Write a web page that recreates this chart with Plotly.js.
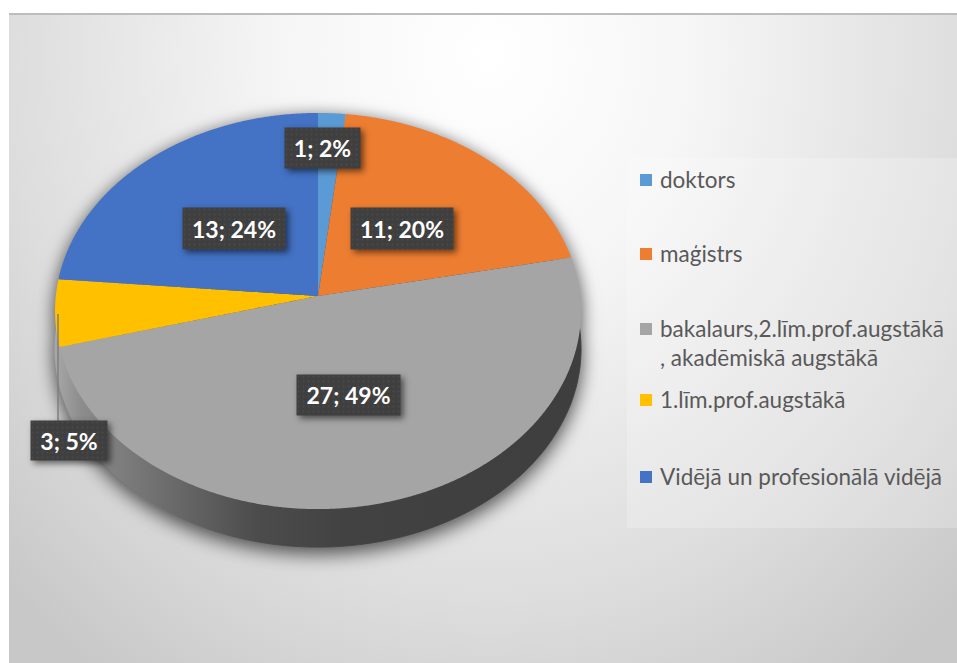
<!DOCTYPE html>
<html><head><meta charset="utf-8">
<script src="https://cdn.plot.ly/plotly-3.0.1.min.js"></script>
<style>
html,body{margin:0;padding:0;background:#fff;width:957px;height:663px;overflow:hidden}
#bg{position:absolute;left:9px;top:13px;width:948px;height:650px;box-sizing:border-box;border-top:2px solid #bdbdbd;
background:radial-gradient(ellipse 670px 760px at 481px 40px,#ffffff 0%,#f6f6f6 30%,#dddddd 72%,#c8c8c8 100%)}
#chart{position:absolute;left:0;top:0;width:957px;height:663px}
.annotation rect{filter:drop-shadow(3px 3px 3px rgba(0,0,0,.55))}
.pielayer{filter:drop-shadow(0 7px 9px rgba(0,0,0,.5)) drop-shadow(0 0 7px rgba(0,0,0,.25))}
</style></head><body>
<div id="bg"></div><div id="chart"></div>
<script>
const categories=['doktors','maģistrs','bakalaurs,2.līm.prof.augstākā<br>, akadēmiskā augstākā','1.līm.prof.augstākā','Vidējā un profesionālā vidējā'];
const counts=[1,11,27,3,13];
const colors=['#5b9bd5','#ed7d31','#a5a5a5','#ffc000','#4472c4'];
const W=957,H=663;
const total=counts.reduce((a,b)=>a+b,0);
const px=x=>x/W, py=y=>1-y/H;
// label boxes: left, top, width, height in page pixels
const boxes=[[285,128,75,40],[351,208,102,41],[297,375,103,40],[31,421,76,39],[183,208,102,41]];
const annotations=counts.map((v,i)=>({
  xref:'paper',yref:'paper',xanchor:'center',yanchor:'middle',
  x:px(boxes[i][0]+boxes[i][2]/2),y:py(boxes[i][1]+boxes[i][3]/2),
  width:boxes[i][2],height:boxes[i][3],borderpad:0,
  showarrow:false,bgcolor:'#404040',
  text:'<b>'+v+'; '+Math.round(v/total*100)+'%</b>',
  font:{family:'Lato, sans-serif',size:23,color:'#ffffff'}
}));
const cx=318,cy=296,R=280;
const dom={x:[px(cx-R),px(cx+R)],y:[py(cy+R),py(cy-R)]};
const wall={type:'pie',values:counts,labels:categories.map((c,i)=>'wall'+i),sort:false,direction:'clockwise',rotation:0,
  textinfo:'none',hoverinfo:'skip',showlegend:false,domain:{x:[Math.max(0,dom.x[0]),dom.x[1]],y:dom.y},
  marker:{colors:counts.map(()=>'#404040'),line:{width:0}}};
const top_={type:'pie',values:counts,labels:categories,sort:false,direction:'clockwise',rotation:0,
  textinfo:'none',domain:wall.domain,marker:{colors:colors,line:{width:0}}};
const layout={width:W,height:H,margin:{l:0,r:0,t:0,b:0},paper_bgcolor:'rgba(0,0,0,0)',plot_bgcolor:'rgba(0,0,0,0)',
  showlegend:true,
  legend:{x:px(620),y:py(160),xanchor:'left',yanchor:'top',bgcolor:'rgba(0,0,0,0)',font:{family:'Lato, sans-serif',size:22.5,color:'#595959'},itemclick:false,itemdoubleclick:false},
  shapes:[
    {type:'rect',xref:'paper',yref:'paper',x0:px(627),x1:px(957),y0:py(158),y1:py(528),fillcolor:'rgba(255,255,255,0.22)',line:{width:0},layer:'below'},
    {type:'line',xref:'paper',yref:'paper',x0:px(58),x1:px(58),y0:py(314),y1:py(421),line:{color:'#7f7f7f',width:1.5}}
  ],
  annotations:annotations};
const gd=document.getElementById('chart');
// perspective projection of the flat pie disc
const b=-0.0758,a=196.9,k=262.2,depth=38;
function tilt(path,r,dy){
  const L=path.getTotalLength(),p0=path.getPointAtLength(0);
  const pts=[];
  for(let s=0;s<=L;s+=1.5){
    const p=path.getPointAtLength(s),u=(p.x-p0.x)/r,v=(p.y-p0.y)/r,d=1+b*v;
    pts.push((p0.x+k*u/d).toFixed(2)+','+(p0.y+a*v/d+dy).toFixed(2));
  }
  path.setAttribute('d','M'+pts.join('L')+'Z');
}
Plotly.newPlot(gd,[wall,top_],layout,{displayModeBar:false}).then(()=>{
  const r=gd.calcdata[0][0].r;
  const svg=gd.querySelector('svg.main-svg');
  const ns='http://www.w3.org/2000/svg';
  const defs=gd.querySelector('defs')||svg.insertBefore(document.createElementNS(ns,'defs'),svg.firstChild);
  const g=document.createElementNS(ns,'linearGradient');
  g.setAttribute('id','wallgrad');g.setAttribute('gradientUnits','userSpaceOnUse');
  g.setAttribute('x1','55');g.setAttribute('x2','585');g.setAttribute('y1','0');g.setAttribute('y2','0');
  [[0,'#a8a8a8'],[.05,'#8c8c8c'],[.2,'#6e6e6e'],[.38,'#4c4c4c'],[.55,'#424242'],[1,'#3e3e3e']].forEach(s=>{
    const st=document.createElementNS(ns,'stop');st.setAttribute('offset',s[0]);st.setAttribute('stop-color',s[1]);g.appendChild(st);});
  defs.appendChild(g);
  // faint dot texture of the label boxes
  const pat=document.createElementNS(ns,'pattern');
  pat.setAttribute('id','dots');pat.setAttribute('width','5');pat.setAttribute('height','5');pat.setAttribute('patternUnits','userSpaceOnUse');
  const pr=document.createElementNS(ns,'rect');pr.setAttribute('width','5');pr.setAttribute('height','5');pr.setAttribute('fill','#3f3f3f');pat.appendChild(pr);
  const pc=document.createElementNS(ns,'circle');pc.setAttribute('cx','2.5');pc.setAttribute('cy','2.5');pc.setAttribute('r','0.9');pc.setAttribute('fill','#4a4a4a');pat.appendChild(pc);
  defs.appendChild(pat);
  gd.querySelectorAll('.annotation rect.bg').forEach(x=>{x.style.fill='url(#dots)';x.style.fillOpacity='1';});
  const traces=gd.querySelectorAll('.pielayer .trace');
  traces[0].querySelectorAll('path.surface').forEach(p=>{
    tilt(p,r,depth);
    p.style.fill='url(#wallgrad)';p.style.stroke='url(#wallgrad)';p.style.strokeWidth='1px';
  });
  traces[1].querySelectorAll('path.surface').forEach(p=>tilt(p,r,0));
  // legend rows at the reference spacing
  const rows=[179,253,328,399,476];
  const lg=gd.querySelector('.legend');
  const m=/translate\(([-\d.]+),\s*([-\d.]+)\)/.exec(lg.getAttribute('transform'));
  const ox=+m[1],oy=+m[2];
  lg.querySelectorAll('[clip-path]').forEach(e=>e.removeAttribute('clip-path'));
  lg.querySelectorAll('.scrollbox').forEach(e=>{e.style.clipPath='none';});
  const half=22.5*1.3/2;
  lg.querySelectorAll('.traces').forEach((t,i)=>{
    const extra=categories[i].includes('<br>')?half:0;
    t.setAttribute('transform','translate('+(620-ox)+','+(rows[i]+extra-oy)+')');
    t.querySelector('.legendpoints').setAttribute('transform','translate(6,'+(1-extra)+')');
  });
  const bg=lg.querySelector('.bg');if(bg)bg.style.display='none';
});
</script>
</body></html>
